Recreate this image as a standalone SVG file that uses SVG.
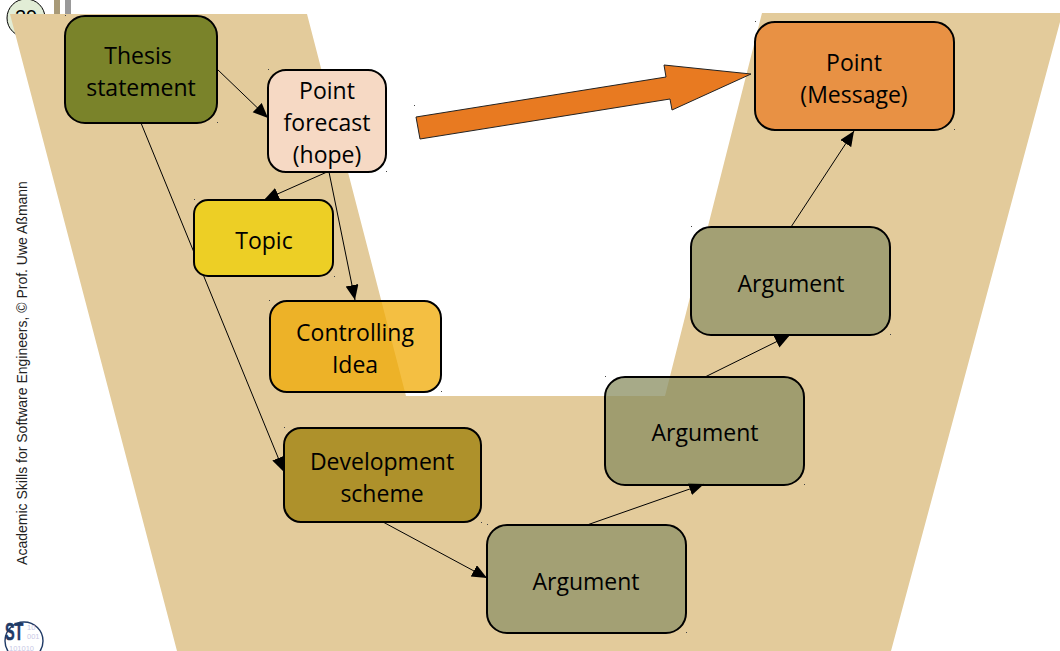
<svg xmlns="http://www.w3.org/2000/svg" width="1060" height="651" viewBox="0 0 1060 651">
<defs>
<marker id="ah" markerUnits="userSpaceOnUse" markerWidth="18" markerHeight="14" refX="15" refY="6.5" orient="auto"><path d="M0 0L15 6.5L0 13Z" fill="#000"/></marker>
</defs>
<style>
.n{stroke:#000;stroke-width:2}
.t{font-family:"Open Sans","Noto Sans",sans-serif;font-size:23px;text-anchor:middle;fill:#000}
.c{fill:none;stroke:#000;stroke-width:1;marker-end:url(#ah)}
.d{fill:#444}
.b{font-family:"Liberation Sans",sans-serif;font-size:7.5px;fill:#c9c9e6}
</style>
<rect width="1060" height="651" fill="#fff"/>
<g id="page-decor">
<circle cx="26" cy="18" r="19" fill="#e2edd6" stroke="#000" stroke-width="1"/>
<text x="26" y="24" font-family="Liberation Sans,sans-serif" font-size="20" text-anchor="middle" fill="#000">29</text>
<rect x="54" y="0" width="6" height="14" fill="#a89a78"/>
<rect x="65" y="0" width="6" height="14" fill="#999"/>
<text transform="translate(27,373) rotate(-90)" font-family="Liberation Sans,sans-serif" font-size="14" text-anchor="middle" fill="#222">Academic Skills for Software Engineers, © Prof. Uwe Aßmann</text>
</g>
<g id="logo-st">
<circle cx="24" cy="641" r="19" fill="#fff" stroke="#1f3a66" stroke-width="1.4"/>
<text class="b" x="27" y="630">10</text>
<text class="b" x="27" y="639">001</text>
<text class="b" x="9" y="651">101010</text>
<text transform="translate(5,640) scale(.6,1)" font-family="Liberation Sans,sans-serif" font-weight="700" font-size="24" fill="#1f3a66" stroke="#1f3a66" stroke-width=".6">ST</text>
</g>
<path id="backdrop" d="M10 14H307L406 396H665L762 13H1060V22L891 651H177Z" fill="#e3cb9b"/>
<g id="connectors">
<path class="c" d="M217 69L268 118"/>
<path class="c" d="M141 123L284 472"/>
<path class="c" d="M327 172L264 200"/>
<path class="c" d="M329 172L355 300"/>
<path class="c" d="M383 522L487 578"/>
<path class="c" d="M587 525L704 484"/>
<path class="c" d="M705 377L790 335"/>
<path class="c" d="M791 227L854 131"/>
</g>
<g id="n-thesis"><rect class="n" x="65" y="16" width="152" height="107" rx="20" fill="#7a832a"/><text class="t" x="138" y="64">Thesis</text><text class="t" x="141" y="96">statement</text></g>
<g id="n-forecast"><rect class="n" x="268" y="70" width="118" height="102" rx="18" fill="#f6d9c4"/><text class="t" x="327" y="99">Point</text><text class="t" x="327" y="131">forecast</text><text class="t" x="327" y="163">(hope)</text></g>
<g id="n-topic"><rect class="n" x="194" y="200" width="139" height="76" rx="14" fill="#edcf25"/><text class="t" x="264" y="249">Topic</text></g>
<g id="n-idea"><rect class="n" x="270" y="301" width="171" height="91" rx="17" fill="#f0a800" fill-opacity=".74"/><text class="t" x="355" y="341">Controlling</text><text class="t" x="355" y="373">Idea</text></g>
<g id="n-scheme"><rect class="n" x="284" y="428" width="197" height="94" rx="17" fill="#ae912b"/><text class="t" x="382" y="470">Development</text><text class="t" x="382" y="502">scheme</text></g>
<g id="n-arg1"><rect class="n" x="487" y="525" width="199" height="108" rx="20" fill="#a3a074"/><text class="t" x="586" y="590">Argument</text></g>
<g id="n-arg2"><rect class="n" x="605" y="377" width="199" height="108" rx="20" fill="#8a8e60" fill-opacity=".75"/><text class="t" x="705" y="441">Argument</text></g>
<g id="n-arg3"><rect class="n" x="691" y="227" width="199" height="108" rx="20" fill="#a3a074"/><text class="t" x="791" y="292">Argument</text></g>
<g id="n-point"><rect class="n" x="755" y="22" width="199" height="108" rx="20" fill="#e89144"/><text class="t" x="854" y="71">Point</text><text class="t" x="854" y="103">(Message)</text></g>
<path id="big-arrow" d="M416 117L666 77L664 65L751 74L672 110L670 99L420 139Z" fill="#e87a21" stroke="#222" stroke-width="1"/>
<g id="handles">
<rect class="d" x="65" y="15" width="1" height="1"/><rect class="d" x="217" y="122" width="1" height="1"/>
<rect class="d" x="268" y="69" width="1" height="1"/><rect class="d" x="386" y="171" width="1" height="1"/>
<rect class="d" x="194" y="199" width="1" height="1"/><rect class="d" x="334" y="276" width="1" height="1"/>
<rect class="d" x="269" y="300" width="1" height="1"/><rect class="d" x="441" y="391" width="1" height="1"/>
<rect class="d" x="284" y="427" width="1" height="1"/><rect class="d" x="481" y="522" width="1" height="1"/>
<rect class="d" x="487" y="524" width="1" height="1"/><rect class="d" x="686" y="632" width="1" height="1"/>
<rect class="d" x="605" y="376" width="1" height="1"/><rect class="d" x="804" y="484" width="1" height="1"/>
<rect class="d" x="691" y="226" width="1" height="1"/><rect class="d" x="890" y="334" width="1" height="1"/>
<rect class="d" x="755" y="21" width="1" height="1"/><rect class="d" x="954" y="129" width="1" height="1"/>
<rect class="d" x="414" y="105" width="1" height="1"/>
</g>
</svg>
